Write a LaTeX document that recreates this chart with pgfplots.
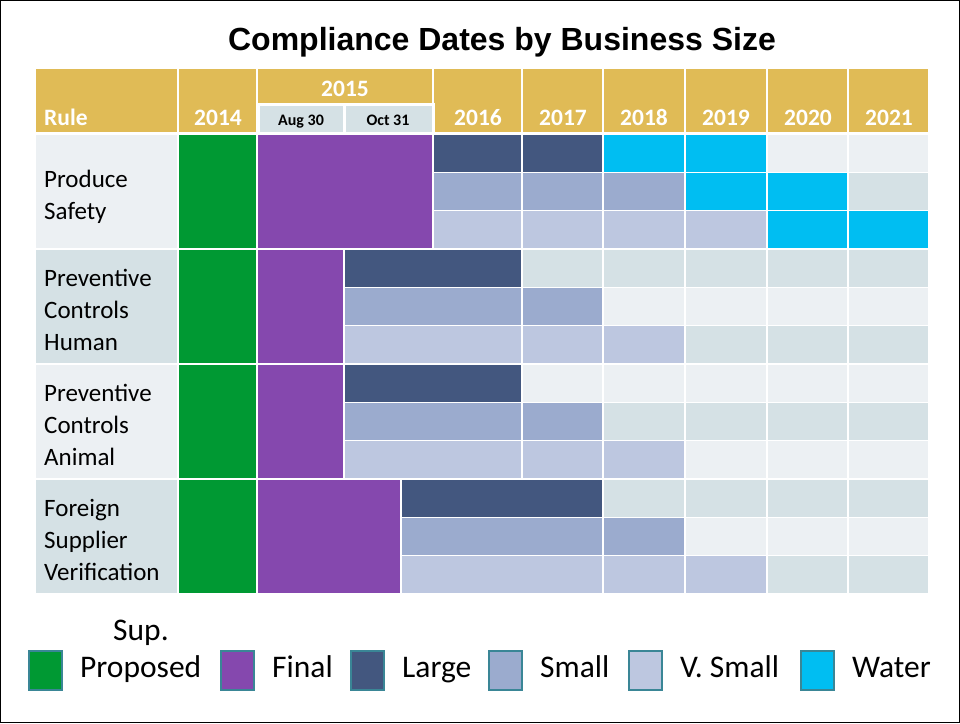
\documentclass[border=0pt]{standalone}
\usepackage{pgfplots}
\pgfplotsset{compat=1.18}
\usepackage{fontspec}
\setmainfont{Carlito}
\newfontfamily\titlefont{Liberation Sans}
\definecolor{gold}{HTML}{E0BB56}
\definecolor{lightbg}{HTML}{ECF0F3}
\definecolor{darkbg}{HTML}{D5E1E5}
\definecolor{cgreen}{HTML}{009933}
\definecolor{cpurple}{HTML}{8548AE}
\definecolor{clarge}{HTML}{43577F}
\definecolor{csmall}{HTML}{9BABCE}
\definecolor{cvsmall}{HTML}{BDC7E0}
\definecolor{cwater}{HTML}{00BEF2}
\definecolor{lborder}{HTML}{3A8696}
% cell: x0 x1 y0 y1 colour
\newcommand{\cell}[5]{\addplot[fill=#5,draw=white,line width=1.5pt] coordinates {(#1,#3) (#2,#3) (#2,#4) (#1,#4)} -- cycle;}
\newcommand{\lbox}[2]{\addplot[fill=#2,draw=lborder,line width=2pt] coordinates {(#1,651) (#1+33,651) (#1+33,690) (#1,690)} -- cycle;}
\begin{document}
\begin{tikzpicture}
\begin{axis}[scale only axis, width=960pt, height=723pt,
  xmin=0, xmax=960, ymin=0, ymax=723, y dir=reverse,
  hide axis, clip=false]
% frame
\draw[black, line width=1pt] (axis cs:0.5,0.5) rectangle (axis cs:959.5,722.5);
% header
\cell{35}{178}{68}{133}{gold}
\cell{178}{257}{68}{133}{gold}
\cell{257}{433}{68}{133}{gold}
\cell{433}{522}{68}{133}{gold}
\cell{522}{603}{68}{133}{gold}
\cell{603}{685}{68}{133}{gold}
\cell{685}{767}{68}{133}{gold}
\cell{767}{848}{68}{133}{gold}
\cell{848}{929}{68}{133}{gold}
\addplot[fill=darkbg,draw=white,line width=3pt] coordinates {(258,104) (344,104) (344,133) (258,133)} -- cycle;
\addplot[fill=darkbg,draw=white,line width=3pt] coordinates {(344,104) (433,104) (433,133) (344,133)} -- cycle;
% label column
\cell{35}{178}{134}{249}{lightbg}
\cell{35}{178}{249}{364}{darkbg}
\cell{35}{178}{364}{479}{lightbg}
\cell{35}{178}{479}{594}{darkbg}
% supplemental proposed
\cell{178}{257}{134}{249}{cgreen}
\cell{178}{257}{249}{364}{cgreen}
\cell{178}{257}{364}{479}{cgreen}
\cell{178}{257}{479}{594}{cgreen}
% final
\cell{257}{433}{134}{249}{cpurple}
\cell{257}{344}{249}{364}{cpurple}
\cell{257}{344}{364}{479}{cpurple}
\cell{257}{401}{479}{594}{cpurple}
% Produce Safety
\cell{433}{522}{134}{172.3}{clarge}
\cell{522}{603}{134}{172.3}{clarge}
\cell{603}{685}{134}{172.3}{cwater}
\cell{685}{767}{134}{172.3}{cwater}
\cell{767}{848}{134}{172.3}{lightbg}
\cell{848}{929}{134}{172.3}{lightbg}
\cell{433}{522}{172.3}{210.7}{csmall}
\cell{522}{603}{172.3}{210.7}{csmall}
\cell{603}{685}{172.3}{210.7}{csmall}
\cell{685}{767}{172.3}{210.7}{cwater}
\cell{767}{848}{172.3}{210.7}{cwater}
\cell{848}{929}{172.3}{210.7}{darkbg}
\cell{433}{522}{210.7}{249}{cvsmall}
\cell{522}{603}{210.7}{249}{cvsmall}
\cell{603}{685}{210.7}{249}{cvsmall}
\cell{685}{767}{210.7}{249}{cvsmall}
\cell{767}{848}{210.7}{249}{cwater}
\cell{848}{929}{210.7}{249}{cwater}
% Preventive Controls Human
\cell{344}{522}{249}{287.3}{clarge}
\cell{522}{603}{249}{287.3}{darkbg}
\cell{603}{685}{249}{287.3}{darkbg}
\cell{685}{767}{249}{287.3}{darkbg}
\cell{767}{848}{249}{287.3}{darkbg}
\cell{848}{929}{249}{287.3}{darkbg}
\cell{344}{522}{287.3}{325.7}{csmall}
\cell{522}{603}{287.3}{325.7}{csmall}
\cell{603}{685}{287.3}{325.7}{lightbg}
\cell{685}{767}{287.3}{325.7}{lightbg}
\cell{767}{848}{287.3}{325.7}{lightbg}
\cell{848}{929}{287.3}{325.7}{lightbg}
\cell{344}{522}{325.7}{364}{cvsmall}
\cell{522}{603}{325.7}{364}{cvsmall}
\cell{603}{685}{325.7}{364}{cvsmall}
\cell{685}{767}{325.7}{364}{darkbg}
\cell{767}{848}{325.7}{364}{darkbg}
\cell{848}{929}{325.7}{364}{darkbg}
% Preventive Controls Animal
\cell{344}{522}{364}{402.3}{clarge}
\cell{522}{603}{364}{402.3}{lightbg}
\cell{603}{685}{364}{402.3}{lightbg}
\cell{685}{767}{364}{402.3}{lightbg}
\cell{767}{848}{364}{402.3}{lightbg}
\cell{848}{929}{364}{402.3}{lightbg}
\cell{344}{522}{402.3}{440.7}{csmall}
\cell{522}{603}{402.3}{440.7}{csmall}
\cell{603}{685}{402.3}{440.7}{darkbg}
\cell{685}{767}{402.3}{440.7}{darkbg}
\cell{767}{848}{402.3}{440.7}{darkbg}
\cell{848}{929}{402.3}{440.7}{darkbg}
\cell{344}{522}{440.7}{479}{cvsmall}
\cell{522}{603}{440.7}{479}{cvsmall}
\cell{603}{685}{440.7}{479}{cvsmall}
\cell{685}{767}{440.7}{479}{lightbg}
\cell{767}{848}{440.7}{479}{lightbg}
\cell{848}{929}{440.7}{479}{lightbg}
% Foreign Supplier Verification
\cell{401}{603}{479}{517.3}{clarge}
\cell{603}{685}{479}{517.3}{darkbg}
\cell{685}{767}{479}{517.3}{darkbg}
\cell{767}{848}{479}{517.3}{darkbg}
\cell{848}{929}{479}{517.3}{darkbg}
\cell{401}{603}{517.3}{555.7}{csmall}
\cell{603}{685}{517.3}{555.7}{csmall}
\cell{685}{767}{517.3}{555.7}{lightbg}
\cell{767}{848}{517.3}{555.7}{lightbg}
\cell{848}{929}{517.3}{555.7}{lightbg}
\cell{401}{603}{555.7}{594}{cvsmall}
\cell{603}{685}{555.7}{594}{cvsmall}
\cell{685}{767}{555.7}{594}{cvsmall}
\cell{767}{848}{555.7}{594}{darkbg}
\cell{848}{929}{555.7}{594}{darkbg}
% legend boxes
\lbox{29}{cgreen}
\lbox{221}{cpurple}
\lbox{351}{clarge}
\lbox{489}{csmall}
\lbox{629}{cvsmall}
\lbox{801}{cwater}
% texts
\node[anchor=base, font=\titlefont\bfseries\fontsize{32}{36}\selectfont] at (axis cs:502,50) {Compliance Dates by Business Size};
\begin{scope}[every node/.style={text=white, font=\bfseries\fontsize{23.5}{26}\selectfont}]
\node[anchor=base west, inner sep=0pt] at (axis cs:44,125) {Rule};
\node[anchor=base] at (axis cs:218,125) {2014};
\node[anchor=base] at (axis cs:345,96) {2015};
\node[anchor=base] at (axis cs:478,125) {2016};
\node[anchor=base] at (axis cs:563,125) {2017};
\node[anchor=base] at (axis cs:644,125) {2018};
\node[anchor=base] at (axis cs:726,125) {2019};
\node[anchor=base] at (axis cs:808,125) {2020};
\node[anchor=base] at (axis cs:889,125) {2021};
\end{scope}
\node[anchor=base, font=\bfseries\fontsize{16}{18}\selectfont] at (axis cs:301,125) {Aug 30};
\node[anchor=base, font=\bfseries\fontsize{16}{18}\selectfont] at (axis cs:388,125) {Oct 31};
\begin{scope}[every node/.style={anchor=base west, inner sep=0pt, font=\fontsize{25}{32}\selectfont}]
\node at (axis cs:44,187) {Produce};
\node at (axis cs:44,219) {Safety};
\node at (axis cs:44,286) {Preventive};
\node at (axis cs:44,318) {Controls};
\node at (axis cs:44,350) {Human};
\node at (axis cs:44,401) {Preventive};
\node at (axis cs:44,433) {Controls};
\node at (axis cs:44,465) {Animal};
\node at (axis cs:44,516) {Foreign};
\node at (axis cs:44,548) {Supplier};
\node at (axis cs:44,580) {Verification};
\end{scope}
\begin{scope}[every node/.style={inner sep=0pt, font=\fontsize{31.5}{36}\selectfont}]
\node[anchor=base] at (axis cs:141,640) {Sup.};
\node[anchor=base west] at (axis cs:80,677) {Proposed};
\node[anchor=base west] at (axis cs:272,677) {Final};
\node[anchor=base west] at (axis cs:402,677) {Large};
\node[anchor=base west] at (axis cs:540,677) {Small};
\node[anchor=base west] at (axis cs:680,677) {V. Small};
\node[anchor=base west] at (axis cs:852,677) {Water};
\end{scope}
\end{axis}
\end{tikzpicture}
\end{document}
